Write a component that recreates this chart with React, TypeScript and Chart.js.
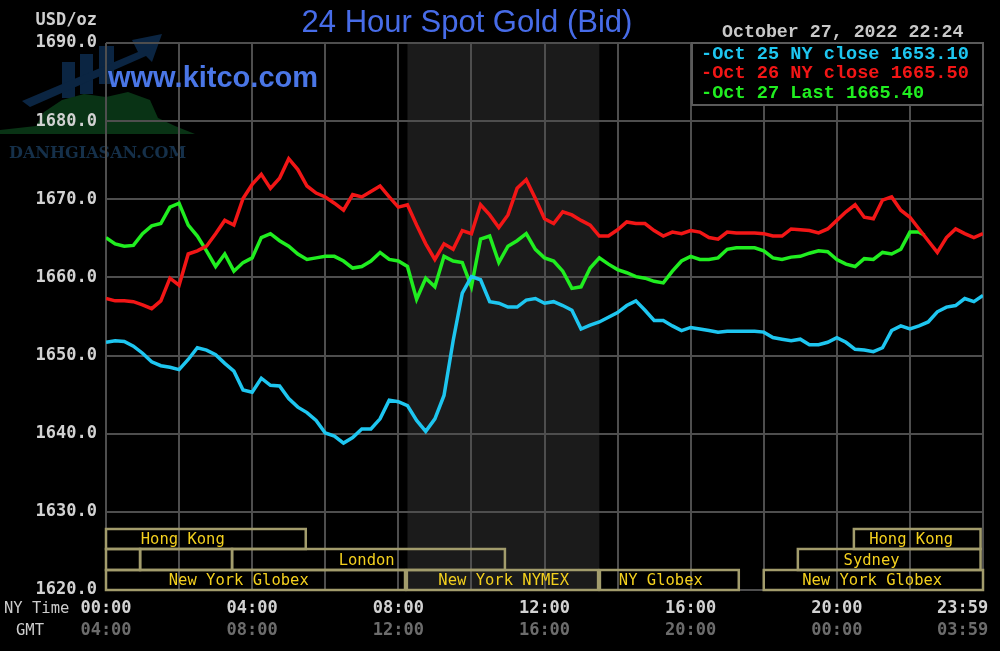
import React, { useEffect, useRef } from 'react';
import { Chart, registerables } from 'chart.js';

Chart.register(...registerables);

// ---- data (NY time, minutes after midnight; sampled every 15 minutes) ----
const SAMPLE_STEP_MIN = 15;

const oct25Close = [
  1651.7, 1651.9, 1651.8, 1651.2, 1650.3, 1649.2, 1648.7, 1648.5, 1648.2, 1649.5,
  1651.0, 1650.7, 1650.1, 1649.0, 1648.0, 1645.6, 1645.3, 1647.1, 1646.2, 1646.1,
  1644.5, 1643.4, 1642.7, 1641.7, 1640.1, 1639.7, 1638.8, 1639.5, 1640.6, 1640.6,
  1641.9, 1644.3, 1644.1, 1643.6, 1641.7, 1640.3, 1641.9, 1644.9, 1651.9, 1658.0,
  1660.1, 1659.7, 1656.9, 1656.7, 1656.2, 1656.2, 1657.1, 1657.3, 1656.7, 1656.9,
  1656.4, 1655.8, 1653.4, 1653.9, 1654.3, 1654.9, 1655.5, 1656.4, 1657.0, 1655.8,
  1654.5, 1654.5, 1653.8, 1653.2, 1653.6, 1653.4, 1653.2, 1653.0, 1653.1, 1653.1,
  1653.1, 1653.1, 1653.0, 1652.3, 1652.1, 1651.9, 1652.1, 1651.4, 1651.4, 1651.7,
  1652.3, 1651.7, 1650.8, 1650.7, 1650.5, 1651.0, 1653.2, 1653.8, 1653.4, 1653.8,
  1654.3, 1655.6, 1656.2, 1656.4, 1657.3, 1656.9, 1657.7,
];

const oct26Close = [
  1657.3, 1657.0, 1657.0, 1656.9, 1656.5, 1656.0, 1657.0, 1659.9, 1659.0, 1663.0,
  1663.4, 1664.0, 1665.6, 1667.3, 1666.7, 1670.1, 1671.9, 1673.2, 1671.4, 1672.7,
  1675.2, 1673.8, 1671.7, 1670.8, 1670.3, 1669.5, 1668.6, 1670.6, 1670.3, 1671.0,
  1671.7, 1670.3, 1669.0, 1669.3, 1666.7, 1664.3, 1662.3, 1664.3, 1663.6, 1666.0,
  1665.6, 1669.3, 1668.0, 1666.4, 1668.0, 1671.4, 1672.5, 1670.1, 1667.5, 1666.9,
  1668.4, 1668.0, 1667.3, 1666.7, 1665.3, 1665.3, 1666.1, 1667.1, 1666.9, 1666.9,
  1666.0, 1665.3, 1665.8, 1665.6, 1666.0, 1665.8, 1665.1, 1664.9, 1665.8, 1665.7,
  1665.7, 1665.7, 1665.6, 1665.3, 1665.3, 1666.2, 1666.1, 1666.0, 1665.7, 1666.2,
  1667.3, 1668.4, 1669.3, 1667.7, 1667.5, 1669.9, 1670.3, 1668.6, 1667.7, 1666.2,
  1664.7, 1663.2, 1665.1, 1666.2, 1665.6, 1665.1, 1665.6,
];

const oct27Bid = [
  1665.1, 1664.3, 1664.0, 1664.1, 1665.6, 1666.6, 1666.9, 1669.0, 1669.5, 1666.7,
  1665.3, 1663.4, 1661.4, 1663.0, 1660.8, 1661.9, 1662.5, 1665.1, 1665.6, 1664.7,
  1664.0, 1663.0, 1662.3, 1662.5, 1662.7, 1662.7, 1662.1, 1661.2, 1661.4, 1662.1,
  1663.2, 1662.3, 1662.1, 1661.4, 1657.2, 1659.9, 1658.8, 1662.7, 1662.1, 1661.9,
  1658.8, 1664.9, 1665.3, 1661.9, 1664.0, 1664.7, 1665.6, 1663.6, 1662.5, 1662.1,
  1660.8, 1658.6, 1658.8, 1661.2, 1662.5, 1661.7, 1661.0, 1660.6, 1660.1, 1659.9,
  1659.5, 1659.3, 1660.8, 1662.1, 1662.7, 1662.3, 1662.3, 1662.5, 1663.6, 1663.8,
  1663.8, 1663.8, 1663.4, 1662.5, 1662.3, 1662.6, 1662.7, 1663.1, 1663.4, 1663.3,
  1662.3, 1661.7, 1661.4, 1662.4, 1662.3, 1663.2, 1663.0, 1663.6, 1665.8, 1665.8,
];
const oct27LastTime = 1344; // 22:24
const oct27LastPrice = 1665.4;

const legendLabels = ['Oct 25 NY close 1653.10', 'Oct 26 NY close 1665.50', 'Oct 27 Last 1665.40'];
const seriesColors = ['#1ec6f0', '#f21616', '#20ee20'];

const gridTickValues = [0, 120, 240, 360, 480, 600, 720, 840, 960, 1080, 1200, 1320, 1440];
const labelTickValues = [0, 240, 480, 720, 960, 1200, 1440];
const nyTimeLabels = ['00:00', '04:00', '08:00', '12:00', '16:00', '20:00', '23:59'];
const gmtTimeLabels = ['04:00', '08:00', '12:00', '16:00', '20:00', '00:00', '03:59'];

const yMin = 1620;
const yMax = 1690;
const yStep = 10;

// NYMEX pit-session shading (minutes)
const nymexShade = [495, 810];

// trading session bars
const sessionNames = ['Hong Kong', 'Hong Kong', '', '', 'London', 'Sydney', 'New York Globex', 'New York NYMEX', 'NY Globex', 'New York Globex'];
const sessionRow = [0, 0, 1, 1, 1, 1, 2, 2, 2, 2];
const sessionStart = [0, 1228, 0, 56, 207, 1136, 0, 494, 811, 1080];
const sessionEnd = [328, 1436, 56, 207, 655, 1436, 491, 808, 1039, 1440];
const sessionLabelAt = [126, 1322, 0, 0, 428, 1257, 218, 653, 911, 1258];

const titleText = '24 Hour Spot Gold (Bid)';
const dateText = 'October 27, 2022 22:24';
const unitText = 'USD/oz';
const siteText = 'www.kitco.com';
const markText = 'DANHGIASAN.COM';

const GRID = '#4e4e4e';
const MONO = '"DejaVu Sans Mono", monospace';
const LMONO = '"Liberation Mono", monospace';

const toPoints = (vals: number[]) => vals.map((v, i) => ({ x: i * SAMPLE_STEP_MIN, y: v }));

const decor = {
  id: 'decor',
  beforeDraw(chart: any) {
    const { ctx, chartArea: a } = chart;
    const x = chart.scales.x;
    ctx.save();
    ctx.fillStyle = '#000';
    ctx.fillRect(0, 0, chart.width, chart.height);

    // faint watermark logo
    ctx.fillStyle = '#0b2542';
    ctx.fillRect(62, 62, 13, 36);
    ctx.fillRect(80, 54, 13, 40);
    ctx.fillRect(99, 46, 15, 38);
    ctx.beginPath();
    ctx.moveTo(22, 101);
    ctx.lineTo(138, 52);
    ctx.lineTo(132, 40);
    ctx.lineTo(162, 34);
    ctx.lineTo(152, 62);
    ctx.lineTo(146, 56);
    ctx.lineTo(30, 107);
    ctx.closePath();
    ctx.fill();
    ctx.fillStyle = '#093315';
    ctx.beginPath();
    ctx.moveTo(0, 134);
    ctx.lineTo(195, 134);
    ctx.lineTo(175, 126);
    ctx.lineTo(158, 118);
    ctx.lineTo(150, 100);
    ctx.lineTo(128, 92);
    ctx.lineTo(106, 97);
    ctx.lineTo(84, 94);
    ctx.lineTo(62, 100);
    ctx.lineTo(44, 112);
    ctx.lineTo(36, 126);
    ctx.lineTo(0, 130);
    ctx.closePath();
    ctx.fill();
    ctx.fillStyle = '#15304a';
    ctx.font = 'bold 16px "DejaVu Serif", serif';
    ctx.textAlign = 'left';
    ctx.textBaseline = 'middle';
    ctx.fillText(markText, 9, 154);

    // shading
    const s0 = x.getPixelForValue(nymexShade[0]);
    const s1 = x.getPixelForValue(nymexShade[1]);
    ctx.fillStyle = '#1b1b1b';
    ctx.fillRect(s0, a.top, s1 - s0, a.bottom - a.top);
    ctx.restore();
  },
  afterDatasetsDraw(chart: any) {
    const { ctx, chartArea: a } = chart;
    const x = chart.scales.x;
    ctx.save();

    // session bars
    const rowTop = [a.bottom - 61, a.bottom - 41, a.bottom - 20];
    const rowBot = [a.bottom - 41, a.bottom - 20, a.bottom];
    ctx.strokeStyle = '#a29c6c';
    ctx.lineWidth = 2.5;
    sessionNames.forEach((name, i) => {
      const r = sessionRow[i];
      const x0 = x.getPixelForValue(sessionStart[i]);
      const x1 = x.getPixelForValue(sessionEnd[i]);
      ctx.strokeRect(x0, rowTop[r], x1 - x0, rowBot[r] - rowTop[r]);
    });
    ctx.fillStyle = '#f3d01e';
    ctx.font = '15.5px ' + MONO;
    ctx.textAlign = 'center';
    ctx.textBaseline = 'middle';
    sessionNames.forEach((name, i) => {
      if (!name) return;
      const r = sessionRow[i];
      ctx.fillText(name, x.getPixelForValue(sessionLabelAt[i]), (rowTop[r] + rowBot[r]) / 2 + 1);
    });

    // legend box
    const lx0 = 692;
    ctx.fillStyle = '#000';
    ctx.fillRect(lx0, a.top, a.right - lx0, 62);
    ctx.strokeStyle = '#5a5a5a';
    ctx.lineWidth = 2;
    ctx.strokeRect(lx0, a.top, a.right - lx0, 62);
    ctx.font = 'bold 18.6px ' + LMONO;
    ctx.textAlign = 'left';
    ctx.textBaseline = 'middle';
    legendLabels.forEach((t, i) => {
      ctx.fillStyle = seriesColors[i];
      ctx.fillText('-' + t, 701, a.top + 11 + i * 19.7);
    });

    // site text
    ctx.fillStyle = '#4a76e6';
    ctx.font = 'bold 29px "Liberation Sans", Arial, sans-serif';
    ctx.textAlign = 'left';
    ctx.textBaseline = 'alphabetic';
    ctx.fillText(siteText, 108, 87);
    ctx.restore();
  },
  afterDraw(chart: any) {
    const { ctx } = chart;
    ctx.save();
    ctx.textBaseline = 'middle';
    // title
    ctx.fillStyle = '#476ce8';
    ctx.font = '31px "Liberation Sans", Arial, sans-serif';
    ctx.textAlign = 'center';
    ctx.fillText(titleText, 467, 23);
    // unit
    ctx.fillStyle = '#cfcfcf';
    ctx.font = 'bold 17px ' + MONO;
    ctx.textAlign = 'right';
    ctx.fillText(unitText, 97, 21);
    // date
    ctx.fillStyle = '#c8c8c8';
    ctx.font = 'bold 18.3px ' + LMONO;
    ctx.textAlign = 'left';
    ctx.fillText(dateText, 722, 32);
    // axis row captions
    ctx.fillStyle = '#cccccc';
    ctx.font = '15.5px ' + MONO;
    ctx.fillText('NY Time', 4, 609);
    ctx.fillText('GMT', 16, 631);
    ctx.restore();
  },
};

function labelFor(list: string[]) {
  return (value: any) => {
    const i = labelTickValues.indexOf(Number(value));
    if (i < 0) return '';
    return i === labelTickValues.length - 1 ? list[i] + '    ' : list[i];
  };
}

export default function App() {
  const ref = useRef<HTMLCanvasElement>(null);

  useEffect(() => {
    const canvas = ref.current;
    if (!canvas) return;
    const tickFont = { family: MONO, size: 17, weight: 'bold' as const };
    const setTicks = (s: any) => {
      s.ticks = gridTickValues.map((v) => ({ value: v }));
    };
    const lineStyle = { borderWidth: 3.5, pointRadius: 0, tension: 0, xAxisID: 'x', yAxisID: 'y' };
    const chart = new Chart(canvas, {
      type: 'line',
      data: {
        datasets: [
          { label: legendLabels[0], data: toPoints(oct25Close), borderColor: seriesColors[0], ...lineStyle },
          { label: legendLabels[1], data: toPoints(oct26Close), borderColor: seriesColors[1], ...lineStyle },
          {
            label: legendLabels[2],
            data: toPoints(oct27Bid).concat([{ x: oct27LastTime, y: oct27LastPrice }]),
            borderColor: seriesColors[2], ...lineStyle,
          },
        ],
      },
      options: {
        responsive: false,
        animation: false,
        layout: { padding: { top: 43, right: 17, bottom: 11, left: 0 } },
        plugins: { legend: { display: false }, title: { display: false }, tooltip: { enabled: false } },
        scales: {
          x: {
            type: 'linear', position: 'bottom', min: 0, max: 1440, weight: 0,
            afterBuildTicks: setTicks,
            afterFit: (s: any) => { s.height = 28; s.paddingLeft = 0; s.paddingRight = 0; },
            grid: { color: GRID, lineWidth: 2, drawTicks: false },
            border: { display: false },
            ticks: { autoSkip: false, maxRotation: 0, padding: 8, color: '#d2d2d2', font: tickFont, callback: labelFor(nyTimeLabels) },
          },
          gmt: {
            type: 'linear', position: 'bottom', min: 0, max: 1440, weight: 1,
            afterBuildTicks: setTicks,
            afterFit: (s: any) => { s.height = 22; s.paddingLeft = 0; s.paddingRight = 0; },
            grid: { display: false, drawTicks: false },
            border: { display: false },
            ticks: { autoSkip: false, maxRotation: 0, padding: 2, color: '#6c6c6c', font: tickFont, callback: labelFor(gmtTimeLabels) },
          },
          y: {
            type: 'linear', position: 'left', min: yMin, max: yMax,
            afterFit: (s: any) => { s.width = 106; },
            grid: { color: GRID, lineWidth: 2, drawTicks: false },
            border: { display: false },
            ticks: { stepSize: yStep, padding: 9, color: '#d2d2d2', font: tickFont, callback: (v: any) => Number(v).toFixed(1) },
          },
        },
      } as any,
      plugins: [decor],
    });
    return () => chart.destroy();
  }, []);

  return (
    <div style={{ position: 'fixed', left: 0, top: 0, width: 1000, height: 651, background: '#000' }}>
      <canvas ref={ref} width={1000} height={651} style={{ display: 'block' }} />
    </div>
  );
}
